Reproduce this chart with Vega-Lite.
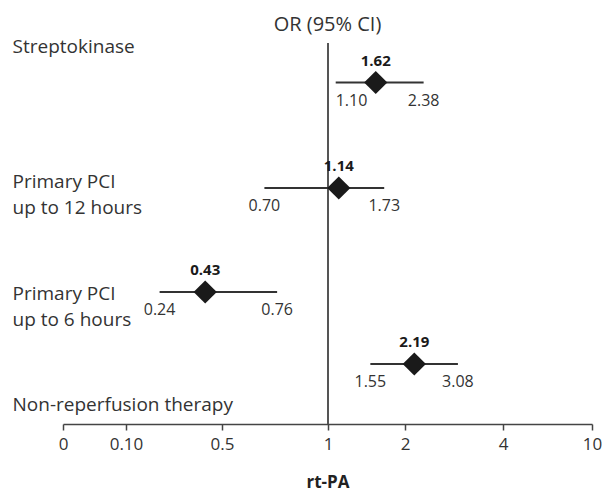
{
  "$schema": "https://vega.github.io/schema/vega-lite/v6.json",
  "width": 529,
  "height": 381,
  "autosize": "none",
  "padding": {"left": 63, "top": 43, "right": 11, "bottom": 68},
  "background": "white",
  "config": {"view": {"stroke": null}, "font": "Open Sans"},
  "title": {"text": "OR (95% CI)", "fontSize": 20, "fontWeight": "normal", "color": "#333333", "anchor": "middle", "frame": "group", "offset": 3},
  "data": {"values": [
    {"group": "Streptokinase", "row": 1, "or": 1.62, "lo": 1.10, "hi": 2.38},
    {"group": "Primary PCI up to 12 hours", "row": 2, "or": 1.14, "lo": 0.70, "hi": 1.73},
    {"group": "Primary PCI up to 6 hours", "row": 3, "or": 0.43, "lo": 0.24, "hi": 0.76},
    {"group": "Non-reperfusion therapy", "row": 4, "or": 2.19, "lo": 1.55, "hi": 3.08}
  ]},
  "layer": [
    {
      "mark": {"type": "rule", "color": "#555555", "strokeWidth": 2},
      "encoding": {
        "x": {"datum": 1, "type": "quantitative",
          "scale": {"domain": [0, 0.1, 0.5, 1, 2, 4, 10], "range": [0, 63, 159, 265, 342, 440, 529], "nice": false, "zero": false},
          "axis": {"values": [0, 0.1, 0.5, 1, 2, 4, 10], "labelExpr": "datum.value == 0.1 ? '0.10' : toString(datum.value)",
            "grid": false, "tickSize": 6, "tickWidth": 1.5, "tickColor": "#444444", "domainColor": "#444444", "domainWidth": 1.5,
            "labelFontSize": 17, "labelColor": "#333333", "labelPadding": 6, "labelFlush": false, "labelOverlap": false,
            "title": "rt-PA", "titleFontSize": 17, "titleFontWeight": "bold", "titleColor": "#222222", "titlePadding": 22}}
      }
    },
    {
      "mark": {"type": "rule", "color": "#333333", "strokeWidth": 2},
      "encoding": {
        "x": {"field": "lo", "type": "quantitative"},
        "x2": {"field": "hi"},
        "y": {"field": "row", "type": "quantitative",
          "scale": {"domain": [0, 1, 2, 3, 4, 5], "range": [0, 39.5, 145, 249, 321, 381], "nice": false, "zero": false},
          "axis": {"values": [0.1, 1.943, 3.014, 4.68],
            "labelExpr": "datum.value < 1 ? 'Streptokinase' : datum.value < 2.5 ? ['Primary PCI', 'up to 12 hours'] : datum.value < 4 ? ['Primary PCI', 'up to 6 hours'] : 'Non-reperfusion therapy'",
            "labelAlign": "left", "labelBaseline": "middle", "labelPadding": 51, "ticks": false, "tickSize": 0, "domain": false, "grid": false,
            "title": null, "labelFontSize": 19, "labelColor": "#333333", "labelLineHeight": 26, "labelLimit": 400, "labelOverlap": false, "labelBound": false}}
      }
    },
    {
      "mark": {"type": "point", "shape": "diamond", "filled": true, "size": 540, "color": "#1a1a1a", "opacity": 1},
      "encoding": {
        "x": {"field": "or", "type": "quantitative"},
        "y": {"field": "row", "type": "quantitative"}
      }
    },
    {
      "mark": {"type": "text", "fontSize": 15, "fontWeight": "bold", "color": "#1a1a1a", "dy": -22},
      "encoding": {
        "x": {"field": "or", "type": "quantitative"},
        "y": {"field": "row", "type": "quantitative"},
        "text": {"field": "or", "type": "quantitative", "format": ".2f"}
      }
    },
    {
      "mark": {"type": "text", "fontSize": 16, "color": "#333333", "dy": 18, "align": {"expr": "datum.lo > 1 && datum.lo < 1.25 ? 'left' : 'center'"}},
      "encoding": {
        "x": {"field": "lo", "type": "quantitative"},
        "y": {"field": "row", "type": "quantitative"},
        "text": {"field": "lo", "type": "quantitative", "format": ".2f"}
      }
    },
    {
      "mark": {"type": "text", "fontSize": 16, "color": "#333333", "dy": 18},
      "encoding": {
        "x": {"field": "hi", "type": "quantitative"},
        "y": {"field": "row", "type": "quantitative"},
        "text": {"field": "hi", "type": "quantitative", "format": ".2f"}
      }
    }
  ]
}
